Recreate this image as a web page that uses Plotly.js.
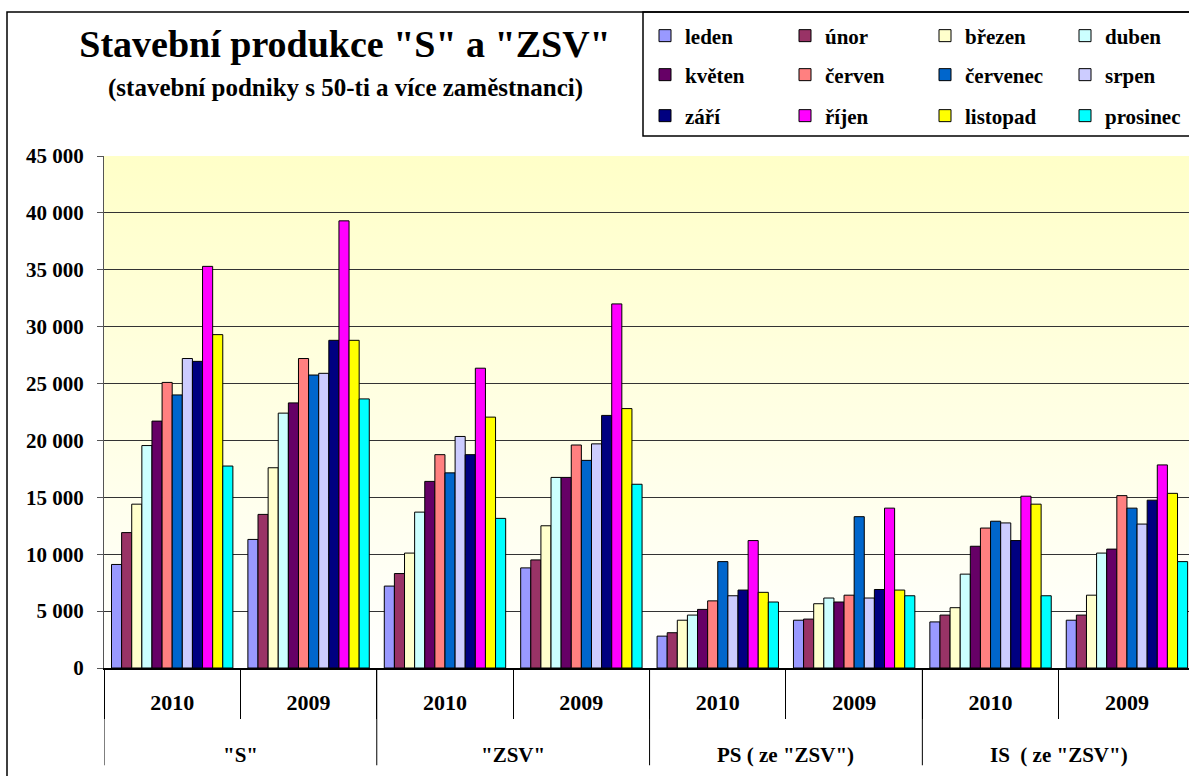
<!DOCTYPE html>
<html><head><meta charset="utf-8">
<script src="https://cdn.plot.ly/plotly-3.0.1.min.js"></script>
<style>html,body{margin:0;padding:0;background:#fff}#chart{width:1189px;height:776px}</style>
</head><body><div id="chart"></div>
<script>
// ---- data ----
const groups = ['"S"', '"ZSV"', 'PS ( ze "ZSV")', 'IS  ( ze "ZSV")'];
const years = ['2010', '2009'];
const months = ['leden','únor','březen','duben','květen','červen','červenec','srpen','září','říjen','listopad','prosinec'];
const monthColors = ['#9999FF','#993366','#FFFFCC','#CCFFFF','#660066','#FF8080','#0066CC','#CCCCFF','#000080','#FF00FF','#FFFF00','#00FFFF'];
// values per month, in order: S 2010, S 2009, ZSV 2010, ZSV 2009, PS 2010, PS 2009, IS 2010, IS 2009
const leden    = [9100, 11300, 7200, 8800, 2800, 4200, 4050, 4200];
const unor     = [11900, 13500, 8300, 9500, 3100, 4300, 4650, 4650];
const brezen   = [14400, 17600, 10100, 12500, 4200, 5650, 5300, 6400];
const duben    = [19550, 22400, 13700, 16750, 4650, 6150, 8250, 10100];
const kveten   = [21700, 23300, 16400, 16750, 5150, 5800, 10700, 10450];
const cerven   = [25100, 27200, 18750, 19600, 5900, 6400, 12300, 15150];
const cervenec = [24000, 25750, 17150, 18250, 9350, 13300, 12900, 14050];
const srpen    = [27200, 25900, 20350, 19700, 6350, 6150, 12750, 12650];
const zari     = [26950, 28800, 18750, 22200, 6850, 6900, 11200, 14750];
const rijen    = [35300, 39300, 26350, 32000, 11200, 14050, 15100, 17850];
const listopad = [29300, 28800, 22050, 22800, 6650, 6850, 14400, 15350];
const prosinec = [17750, 23650, 13150, 16150, 5800, 6350, 6350, 9350];
const seriesValues = [leden, unor, brezen, duben, kveten, cerven, cervenec, srpen, zari, rijen, listopad, prosinec];
const yTickVals = [0,5000,10000,15000,20000,25000,30000,35000,40000,45000];

// ---- build ----
const FONT = '"Liberation Serif", "Times New Roman", serif';
const catKeys = [];
const catYears = [];
groups.forEach(g => years.forEach(y => { catKeys.push(g + '|' + y); catYears.push(y); }));

const legendNames = ['legend','legend2','legend3'];
const traces = months.map((m, i) => ({
  type: 'bar',
  name: m,
  x: catKeys,
  y: seriesValues[i],
  marker: {color: monthColors[i], line: {color: '#000', width: 1}},
  legend: legendNames[Math.floor(i / 4)],
  hoverinfo: 'name+y'
}));

const gradSvg = '<svg xmlns="http://www.w3.org/2000/svg" width="10" height="100" preserveAspectRatio="none"><defs><linearGradient id="g" x1="0" y1="0" x2="0" y2="1"><stop offset="0" stop-color="#FFFFC8"/><stop offset="1" stop-color="#FFFFFF"/></linearGradient></defs><rect width="10" height="100" fill="url(#g)"/></svg>';
const gradSrc = 'data:image/svg+xml;charset=utf-8,' + encodeURIComponent(gradSvg);

const annotations = groups.map((g, i) => ({
  xref: 'x', yref: 'paper', x: 2 * i + 0.5, y: -0.17,
  text: g, showarrow: false, xanchor: 'center', yanchor: 'middle',
  font: {family: FONT, size: 21, weight: 'bold', color: '#000'}
}));
annotations.push({
  xref: 'paper', yref: 'paper', x: (345 - 104) / 1085, y: (668 - 88) / 512,
  text: '(stavební podniky s 50-ti a více zaměstnanci)', showarrow: false,
  xanchor: 'center', yanchor: 'middle',
  font: {family: FONT, size: 25, weight: 'bold', color: '#000'}
});

const shapes = [];
for (let i = 0; i <= groups.length; i++) {
  shapes.push({type: 'line', xref: 'x', yref: 'paper', x0: 2 * i - 0.5, x1: 2 * i - 0.5, y0: 0, y1: -0.19,
    line: {color: '#000', width: 1}});
}
// outer frame
shapes.push({type: 'rect', xref: 'paper', yref: 'paper', x0: (7 - 104) / 1085, x1: 1.05, y0: -0.3, y1: (668 - 12) / 512,
  line: {color: '#000', width: 1.5}, fillcolor: 'rgba(0,0,0,0)'});
// legend box
shapes.push({type: 'rect', xref: 'paper', yref: 'paper', x0: (643 - 104) / 1085, x1: 1.05, y0: (668 - 136) / 512, y1: (668 - 12) / 512,
  line: {color: '#000', width: 1.5}, fillcolor: 'rgba(0,0,0,0)'});

const legendBase = {
  orientation: 'h', xref: 'container', yref: 'container', xanchor: 'left', yanchor: 'middle',
  bgcolor: 'rgba(0,0,0,0)', borderwidth: 0, entrywidth: 95, entrywidthmode: 'pixels',
  font: {family: FONT, size: 21, weight: 'bold', color: '#000'}, traceorder: 'normal', itemclick: false
};
const rowsY = [36, 75, 116];

const layout = {
  width: 1189, height: 776,
  margin: {l: 104, r: 0, t: 156, b: 108},
  paper_bgcolor: '#fff', plot_bgcolor: 'rgba(0,0,0,0)',
  separators: ', ',
  barmode: 'group', bargap: 0.11, bargroupgap: 0,
  title: {text: 'Stavební produkce "S" a "ZSV"', xref: 'container', x: 345 / 1189, xanchor: 'center',
    yref: 'container', y: 1 - 44 / 776, yanchor: 'middle',
    font: {family: FONT, size: 38, weight: 'bold', color: '#000'}},
  xaxis: {
    type: 'category', categoryorder: 'array', categoryarray: catKeys,
    tickvals: catKeys, ticktext: catYears, range: [-0.5, 7.455],
    ticks: 'outside', tickson: 'boundaries', ticklen: 49, tickcolor: '#000', tickwidth: 1,
    ticklabelstandoff: 14,
    showline: true, linecolor: '#000', linewidth: 2, showgrid: false, zeroline: false,
    tickfont: {family: FONT, size: 22, weight: 'bold', color: '#000'}
  },
  yaxis: {
    range: [0, 45000], tickvals: yTickVals, tickformat: ',d',
    ticks: 'outside', ticklen: 6, tickcolor: '#555', ticklabelstandoff: 9,
    showline: true, linecolor: '#555', linewidth: 1,
    showgrid: true, gridcolor: '#333', gridwidth: 1, zeroline: false,
    tickfont: {family: FONT, size: 21, weight: 'bold', color: '#000'}
  },
  images: [{source: gradSrc, xref: 'paper', yref: 'paper', x: 0, y: 1, sizex: 1, sizey: 1,
    sizing: 'stretch', layer: 'below', xanchor: 'left', yanchor: 'top'}],
  annotations: annotations,
  shapes: shapes,
  legend: Object.assign({}, legendBase, {x: 645 / 1189, y: 1 - rowsY[0] / 776}),
  legend2: Object.assign({}, legendBase, {x: 645 / 1189, y: 1 - rowsY[1] / 776}),
  legend3: Object.assign({}, legendBase, {x: 645 / 1189, y: 1 - rowsY[2] / 776}),
  showlegend: true
};

Plotly.newPlot('chart', traces, layout, {displayModeBar: false, staticPlot: false});
</script>
</body></html>
